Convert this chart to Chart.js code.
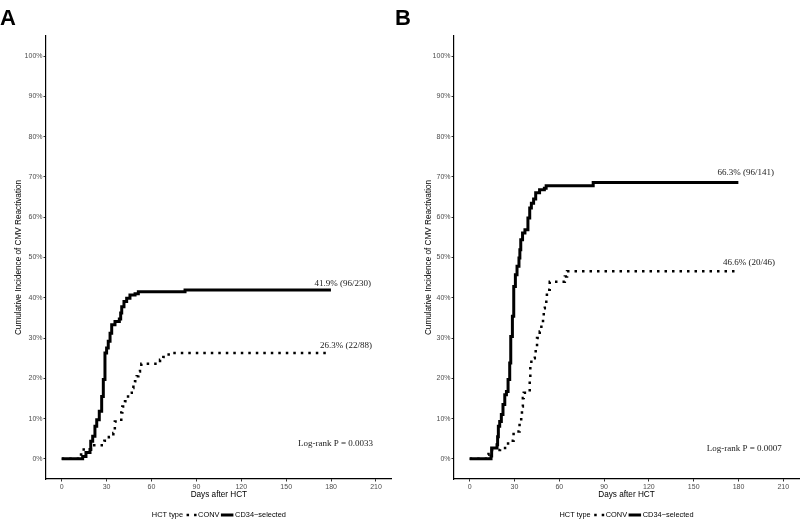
<!DOCTYPE html>
<html><head><meta charset="utf-8">
<script src="https://cdn.jsdelivr.net/npm/chart.js@4"></script>
<style>
html,body{margin:0;padding:0;background:#fff;}
#wrap{position:relative;width:800px;height:521px;overflow:hidden;background:#fff;}
.panel{position:absolute;top:0;width:400px;height:521px;}
.lab{position:absolute;font:bold 22px "Liberation Sans",Arial,sans-serif;color:#000;line-height:1;}
</style></head><body>
<div id="wrap">
<div class="panel" style="left:0"><canvas id="cA" width="400" height="521"></canvas></div>
<div class="panel" style="left:400px"><canvas id="cB" width="400" height="521"></canvas></div>
<div class="lab" style="left:0;top:7px">A</div>
<div class="lab" style="left:395px;top:7px">B</div>
</div>
<script>
// ---- data ----
const xTickValues = [0, 30, 60, 90, 120, 150, 180, 210];
const xTickLabels = ['0', '30', '60', '90', '120', '150', '180', '210'];
const yTickValues = [0, 10, 20, 30, 40, 50, 60, 70, 80, 90, 100];
const yTickLabels = ['0%', '10%', '20%', '30%', '40%', '50%', '60%', '70%', '80%', '90%', '100%'];
const seriesNames = ['CONV', 'CD34\u2212selected'];
const legendTitle = 'HCT type';
const xTitle = 'Days after HCT';
const yTitle = 'Cumulative Incidence of CMV Reactivation';

// Panel A
const aCd34Days = [0, 14, 16.2, 18.9, 19.4, 20.7, 22.2, 23.4, 25.1, 26.7, 27.8, 28.9, 30.0, 31.1, 32.3, 33.4, 35.6, 38.5, 39.4, 40.1, 41.6, 43.4, 45.6, 49.0, 51.2, 82.4, 179.9];
const aCd34Pct  = [0, 0.6, 1.6, 2.3, 4.4, 5.6, 8.1, 9.7, 11.8, 15.5, 19.7, 26.3, 27.5, 29.2, 31.2, 33.3, 34.1, 34.7, 36.2, 37.8, 39.1, 39.9, 40.7, 41.0, 41.5, 41.9, 41.9];
const aConvDays = [0, 12.0, 13.0, 19.5, 28.5, 31.5, 34.5, 35.5, 39.8, 40.5, 42.3, 43.4, 45.5, 46.8, 47.9, 49.0, 50.1, 51.2, 52.3, 53.2, 65.7, 67.9, 70.1, 72.8, 178];
const aConvPct  = [0, 1.1, 2.3, 3.4, 4.5, 5.4, 6.4, 9.3, 11.5, 13.0, 14.3, 15.5, 16.4, 17.6, 18.4, 19.3, 20.5, 21.7, 23.0, 23.6, 24.6, 25.3, 25.9, 26.3, 26.3];
const aNotes = ['41.9% (96/230)', '26.3% (22/88)', 'Log-rank P = 0.0033'];

// Panel B
const bCd34Days = [0, 14.3, 14.7, 18.3, 18.7, 19.2, 20.1, 21.2, 22.3, 23.5, 24.6, 25.7, 26.8, 27.5, 28.6, 29.5, 30.6, 31.7, 33.0, 33.6, 34.2, 35.4, 37.0, 39.0, 40.2, 41.3, 42.8, 44.2, 46.8, 50.0, 51.2, 82.7, 179.9];
const bCd34Pct  = [0, 0.7, 2.7, 3.5, 5.5, 8.1, 9.3, 11.0, 13.5, 15.9, 16.7, 19.7, 23.8, 30.4, 35.4, 42.8, 45.7, 47.8, 49.9, 51.9, 54.4, 56.1, 56.9, 59.8, 62.3, 63.5, 64.5, 66.1, 66.8, 67.2, 67.8, 68.6, 68.6];
const bConvDays = [0, 11.6, 12.6, 20.3, 25.7, 29.4, 33.4, 34.5, 35.0, 35.6, 36.2, 40.2, 40.6, 41.3, 43.6, 44.2, 45.1, 46.9, 48.0, 49.1, 49.6, 50.3, 51.3, 51.7, 53.6, 63.7, 65.2, 178];
const bConvPct  = [0, 1.0, 2.2, 2.7, 4.5, 6.8, 8.9, 11.0, 13.0, 15.1, 16.4, 20.1, 23.4, 25.0, 25.9, 27.9, 30.0, 31.6, 33.3, 35.4, 37.4, 38.7, 40.3, 42.0, 44.0, 45.3, 46.6, 46.6];
const bNotes = ['66.3% (96/141)', '46.6% (20/46)', 'Log-rank P = 0.0007'];

// ---- rendering ----
const SANS = '"Liberation Sans", Arial, Helvetica, sans-serif';
const SERIF = '"Liberation Serif", "Times New Roman", serif';
function toXY(days, pct) { return days.map((d, i) => ({ x: d, y: pct[i] })); }

const overlayPlugin = {
  id: 'overlay',
  afterDatasetsDraw(chart, args, opts) {
    const { ctx, chartArea, scales } = chart;
    ctx.save();
    // annotations
    ctx.font = '9px ' + SERIF;
    ctx.fillStyle = '#1a1a1a';
    ctx.textAlign = 'right';
    ctx.textBaseline = 'middle';
    opts.notes.forEach((t, i) => {
      const p = opts.notePos[i];
      ctx.fillText(t, scales.x.getPixelForValue(p[0]), scales.y.getPixelForValue(p[1]));
    });
    ctx.restore();
  },
  afterDraw(chart, args, opts) {
    const { ctx, chartArea } = chart;
    ctx.save();
    ctx.font = '7.4px ' + SANS;
    ctx.fillStyle = '#000';
    ctx.textBaseline = 'middle';
    ctx.textAlign = 'left';
    const keyDot = 10, keySolid = 12.5;
    const wT = ctx.measureText(legendTitle).width;
    const w0 = ctx.measureText(seriesNames[0]).width;
    const w1 = ctx.measureText(seriesNames[1]).width;
    const total = wT + 3.5 + keyDot + 1.5 + w0 + 1.5 + keySolid + 1.7 + w1;
    let x = (chartArea.left + chartArea.right) / 2 - total / 2;
    const y = 515;
    ctx.fillText(legendTitle, x, y); x += wT + 3.5;
    ctx.strokeStyle = '#000';
    ctx.lineWidth = 2.5; ctx.setLineDash([2.5, 5]); ctx.lineCap = 'butt';
    ctx.beginPath(); ctx.moveTo(x, y); ctx.lineTo(x + keyDot, y); ctx.stroke();
    x += keyDot + 1.5;
    ctx.fillText(seriesNames[0], x, y); x += w0 + 1.5;
    ctx.setLineDash([]); ctx.lineWidth = 3;
    ctx.beginPath(); ctx.moveTo(x, y); ctx.lineTo(x + keySolid, y); ctx.stroke();
    x += keySolid + 1.7;
    ctx.fillText(seriesNames[1], x, y);
    ctx.restore();
  }
};

function makeChart(id, cfg) {
  return new Chart(document.getElementById(id), {
    type: 'line',
    data: {
      datasets: [
        { label: seriesNames[1], data: toXY(cfg.cd34Days, cfg.cd34Pct), borderColor: '#000', borderWidth: 3,
          stepped: 'before', pointRadius: 0, fill: false, borderCapStyle: 'butt', borderJoinStyle: 'miter' },
        { label: seriesNames[0], data: toXY(cfg.convDays, cfg.convPct), borderColor: '#000', borderWidth: 2.5,
          borderDash: [2.5, 5], stepped: 'before', pointRadius: 0, fill: false, borderCapStyle: 'butt' }
      ]
    },
    options: {
      responsive: false, animation: false, devicePixelRatio: 1,
      layout: { padding: { top: 36, right: cfg.padRight, left: 0, bottom: 0 } },
      plugins: {
        legend: { display: false }, tooltip: { enabled: false },
        overlay: { notes: cfg.notes, notePos: cfg.notePos }
      },
      scales: {
        x: {
          type: 'linear', min: -10.5, max: 220.5,
          afterBuildTicks: s => { s.ticks = xTickValues.map(v => ({ value: v })); },
          afterFit: s => { s.height = 42; },
          grid: { display: true, drawOnChartArea: false, drawTicks: true, tickLength: 2.5, tickColor: '#333', tickWidth: 1 },
          border: { display: true, color: '#000', width: 1.2 },
          ticks: { font: { family: SANS, size: 7 }, color: '#4d4d4d', padding: 1, maxRotation: 0, autoSkip: false,
                   callback: (v, i) => xTickLabels[i] },
          title: { display: true, text: xTitle, font: { family: SANS, size: 8.2 }, color: '#000', padding: { top: 0, bottom: 21 } }
        },
        y: {
          type: 'linear', min: -5, max: 105,
          afterBuildTicks: s => { s.ticks = yTickValues.map(v => ({ value: v })); },
          afterFit: s => { s.width = cfg.yWidth; },
          grid: { display: true, drawOnChartArea: false, drawTicks: true, tickLength: 2.5, tickColor: '#333', tickWidth: 1 },
          border: { display: true, color: '#000', width: 1.2 },
          ticks: { font: { family: SANS, size: 7 }, color: '#4d4d4d', padding: 1, autoSkip: false,
                   callback: (v, i) => yTickLabels[i] },
          title: { display: true, text: yTitle, font: { family: SANS, size: 8.2 }, color: '#000', padding: { top: cfg.yTitlePad, bottom: 0 } }
        }
      }
    },
    plugins: [overlayPlugin]
  });
}

makeChart('cA', {
  cd34Days: aCd34Days, cd34Pct: aCd34Pct, convDays: aConvDays, convPct: aConvPct,
  notes: aNotes, notePos: [[206.6, 43.5], [207.3, 28.1], [208, 3.8]],
  padRight: 8.3, yWidth: 46, yTitlePad: 14
});
makeChart('cB', {
  cd34Days: bCd34Days, cd34Pct: bCd34Pct, convDays: bConvDays, convPct: bConvPct,
  notes: bNotes, notePos: [[203.8, 71.0], [204.4, 48.7], [209, 2.6]],
  padRight: 1, yWidth: 54, yTitlePad: 24
});
</script>
</body></html>
